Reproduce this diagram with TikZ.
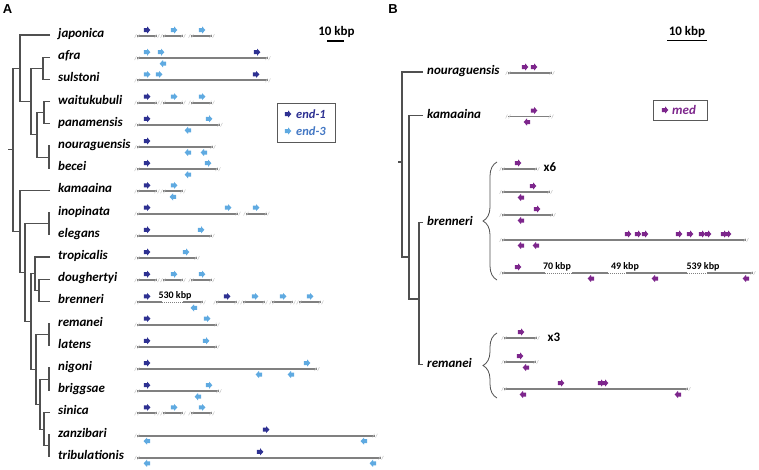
\documentclass[tikz,border=0pt]{standalone}
\usepackage{fontspec}
\setmainfont{Carlito}
\newfontfamily\panelfont{Liberation Sans}
\usepackage{xcolor}
\definecolor{endone}{RGB}{46,49,146}
\definecolor{endthree}{RGB}{95,170,225}
\definecolor{endthreetxt}{RGB}{68,120,196}
\definecolor{medpurple}{RGB}{125,38,140}
\definecolor{treegray}{RGB}{80,80,80}
\definecolor{chromgray}{RGB}{128,128,128}
\usetikzlibrary{decorations.pathreplacing}

\tikzset{
  fw/.pic={\fill (-3.2,-2) -- (0,-2) -- (0,-3.6) -- (3.4,0) -- (0,3.6) -- (0,2) -- (-3.2,2) -- cycle;},
  rv/.pic={\fill (3.2,-2) -- (0,-2) -- (0,-3.6) -- (-3.4,0) -- (0,3.6) -- (0,2) -- (3.2,2) -- cycle;}
}
% chromosome pieces and genes
\newcommand{\brk}[2]{\draw[brkline] ({#1-2.4},{#2+1.9}) -- ({#1-0.6},{#2-1.9}) ({#1+0.6},{#2+1.9}) -- ({#1+2.4},{#2-1.9});}
\newcommand{\gseg}[3]{\draw[gline] (#2,#1) -- (#3,#1); \brk{#2}{#1}\brk{#3}{#1}}
\newcommand{\gdot}[3]{\draw[white, line width=2.6pt] (#2,#1) -- (#3,#1); \draw[dotline] (#2,#1) -- (#3,#1);}
\newcommand{\geneup}[3]{\foreach \gx in {#3} {\pic[#2] at (\gx,{#1-6}) {fw};}}
\newcommand{\genedn}[3]{\foreach \gx in {#3} {\pic[#2] at (\gx,{#1+5.5}) {rv};}}
\newcommand{\threeseg}[1]{\gseg{#1}{137}{157}\gseg{#1}{163}{183}\gseg{#1}{191}{212}%
  \geneup{#1}{endone}{147}\geneup{#1}{endthree}{174,202}}

\begin{document}
\begin{tikzpicture}[x=1pt, y=-1pt,
  sp/.style={anchor=west, inner xsep=8pt, inner ysep=0pt, text height=7pt, text depth=2pt,
             font=\fontsize{13}{15}\selectfont\bfseries\itshape},
  spb/.style={sp, inner xsep=4pt},
  br/.style={draw=treegray, line width=1.1pt},
  gline/.style={draw=chromgray, line width=1.9pt},
  brkline/.style={draw=gray!45, line width=0.5pt},
  dotline/.style={draw=chromgray, line width=0.9pt, dash pattern=on 1pt off 1pt},
  kbp/.style={inner sep=0pt, font=\fontsize{13}{15}\selectfont\bfseries},
  smallkbp/.style={inner sep=0pt, font=\fontsize{10}{12}\selectfont\bfseries},
  panel/.style={inner sep=0pt, font=\panelfont\fontsize{13}{15}\selectfont\bfseries},
  legbox/.style={draw=gray!70!black, line width=0.9pt, inner sep=0pt},
  legtxt/.style={anchor=west, inner sep=0pt, font=\fontsize{12.5}{14}\selectfont\bfseries\itshape},
  brc/.style={draw=treegray, line width=0.8pt, decorate, decoration={brace, amplitude=14pt}},
  scalebar/.style={draw=black, line width=1.3pt}
]
\useasboundingbox (0,0) rectangle (759,469);

%%% panel A
\node[panel] (lblA) at (7.5,9.5) {A};
\foreach \i/\nm in {0/japonica,1/afra,2/sulstoni,3/waitukubuli,4/panamensis,5/nouraguensis,
  6/becei,7/kamaaina,8/inopinata,9/elegans,10/tropicalis,11/doughertyi,12/brenneri,13/remanei,
  14/latens,15/nigoni,16/briggsae,17/sinica,18/zanzibari,19/tribulationis}
  \node[sp] (\nm) at (50,{35+22.2*\i}) {\nm};

% tree A
\coordinate (afsu) at (43,68.3);
\coordinate (wapa) at (44,112.7);
\coordinate (nobe) at (49,157.1);
\coordinate (wpnb) at (37,134.9);
\coordinate (asnb) at (31,101.6);
\coordinate (japo) at (20,68.3);
\coordinate (inel) at (49,223.7);
\coordinate (dobr) at (39,290.3);
\coordinate (trop) at (35,273.65);
\coordinate (rela) at (49,334.7);
\coordinate (nibr) at (49,379.1);
\coordinate (zatr) at (49,445.7);
\coordinate (sizt) at (44,429.05);
\coordinate (nbsz) at (40,404.1);
\coordinate (rlns) at (36,369.4);
\coordinate (trre) at (31,321.5);
\coordinate (ietr) at (25,272.6);
\coordinate (kama) at (20,231.5);
\coordinate (rootA) at (13,149.9);
\draw[br] (afra.west) -| (afsu) |- (sulstoni.west);
\draw[br] (waitukubuli.west) -| (wapa) |- (panamensis.west);
\draw[br] (nouraguensis.west) -| (nobe) |- (becei.west);
\draw[br] (wapa) -| (wpnb) |- (nobe);
\draw[br] (afsu) -| (asnb) |- (wpnb);
\draw[br] (japonica.west) -| (japo) |- (asnb);
\draw[br] (inopinata.west) -| (inel) |- (elegans.west);
\draw[br] (doughertyi.west) -| (dobr) |- (brenneri.west);
\draw[br] (tropicalis.west) -| (trop) |- (dobr);
\draw[br] (remanei.west) -| (rela) |- (latens.west);
\draw[br] (nigoni.west) -| (nibr) |- (briggsae.west);
\draw[br] (zanzibari.west) -| (zatr) |- (tribulationis.west);
\draw[br] (sinica.west) -| (sizt) |- (zatr);
\draw[br] (nibr) -| (nbsz) |- (sizt);
\draw[br] (rela) -| (rlns) |- (nbsz);
\draw[br] (trop) -| (trre) |- (rlns);
\draw[br] (inel) -| (ietr) |- (trre);
\draw[br] (kamaaina.west) -| (kama) |- (ietr);
\draw[br] (japo) -| (rootA) |- (kama);
\draw[br] (8,149.9) -- (rootA);

% loci A
\threeseg{36}
\gseg{58.2}{137}{268}\geneup{58.2}{endthree}{147,161}\geneup{58.2}{endone}{257}\genedn{58.2}{endthree}{163}
\gseg{80.4}{137}{268}\geneup{80.4}{endthree}{147,159}\geneup{80.4}{endone}{256}
\threeseg{102.6}
\gseg{124.8}{137}{220}\geneup{124.8}{endone}{147}\geneup{124.8}{endthree}{209}\genedn{124.8}{endthree}{188}
\gseg{147}{137}{213}\geneup{147}{endone}{147}\genedn{147}{endthree}{188,204}
\gseg{169.2}{137}{218}\geneup{169.2}{endone}{147}\geneup{169.2}{endthree}{208}\genedn{169.2}{endthree}{188}
\gseg{191.4}{137}{157}\gseg{191.4}{163}{183}\geneup{191.4}{endone}{147}\geneup{191.4}{endthree}{174}\genedn{191.4}{endthree}{173}
\gseg{213.6}{137}{238}\gseg{213.6}{246}{267}\geneup{213.6}{endone}{147}\geneup{213.6}{endthree}{228,256}
\gseg{235.8}{137}{212}\geneup{235.8}{endone}{147}\geneup{235.8}{endthree}{201}
\gseg{258}{137}{197}\geneup{258}{endone}{147}\geneup{258}{endthree}{186}
\threeseg{280.2}
\gseg{302.4}{137}{203}\gdot{302.4}{162}{183}
\gseg{302.4}{216}{237}\gseg{302.4}{243}{265}\gseg{302.4}{272}{293}\gseg{302.4}{299}{321}
\geneup{302.4}{endone}{147,227}\geneup{302.4}{endthree}{255,283,310}\genedn{302.4}{endthree}{194}
\node[smallkbp] (gapA) at (175,296) {530 kbp};
\gseg{324.6}{137}{217}\geneup{324.6}{endone}{147}\geneup{324.6}{endthree}{207}
\gseg{346.8}{137}{217}\geneup{346.8}{endone}{147}\geneup{346.8}{endthree}{206}
\gseg{369}{137}{317}\geneup{369}{endone}{147}\geneup{369}{endthree}{307}\genedn{369}{endthree}{259,291}
\gseg{391.2}{137}{219}\geneup{391.2}{endone}{147}\geneup{391.2}{endthree}{209}\genedn{391.2}{endthree}{198}
\threeseg{413.4}
\gseg{435.6}{137}{375}\geneup{435.6}{endone}{266}\genedn{435.6}{endthree}{147,364}
\gseg{457.8}{137}{381}\geneup{457.8}{endone}{260}\genedn{457.8}{endthree}{147,373}

% scale and legend A
\node[kbp] (scaleA) at (336.5,32) {10 kbp};
\draw[scalebar] (327,41) -- (344,41);
\node[legbox, minimum width=58pt, minimum height=39pt] (legA) at (306,122.5) {};
\pic[endone] at (288,114) {fw};
\node[legtxt, text=endone] (leg1) at (296,114) {end-1};
\pic[endthree] at (288,131) {fw};
\node[legtxt, text=endthreetxt] (leg3) at (296,131) {end-3};

%%% panel B
\node[panel] (lblB) at (393,9) {B};
\node[spb] (nouB) at (423,72) {nouraguensis};
\node[spb] (kamB) at (423,115.5) {kamaaina};
\node[spb] (breB) at (423,222.5) {brenneri};
\node[spb] (remB) at (423,364.5) {remanei};
\coordinate (brre) at (419,299);
\coordinate (kabr) at (409,257);
\coordinate (rootB) at (402,162);
\draw[br] (breB.west) -| (brre) |- (remB.west);
\draw[br] (kamB.west) -| (kabr) |- (brre);
\draw[br] (nouB.west) -| (rootB) |- (kabr);
\draw[br] (398,162) -- (rootB);

\gseg{73}{508}{552}\geneup{73}{medpurple}{525,534}
\gseg{116.5}{508}{551}\geneup{116.5}{medpurple}{534}\genedn{116.5}{medpurple}{527}

% brenneri copies
\draw[brc] (497,280) -- (497,162);
\gseg{169}{502}{537}\geneup{169}{medpurple}{518}
\node[kbp] (xsix) at (550,167) {x6};
\gseg{192}{502}{550}\geneup{192}{medpurple}{533}\genedn{192}{medpurple}{521}
\gseg{215}{502}{553}\geneup{215}{medpurple}{537}\genedn{215}{medpurple}{521}
\gseg{240}{502}{746}\geneup{240}{medpurple}{628,638,645,679,690,702,708,724,728}\genedn{240}{medpurple}{521,536}
\gseg{273}{502}{753}\gdot{273}{545}{572}\gdot{273}{608}{626}\gdot{273}{687}{707}
\geneup{273}{medpurple}{518}\genedn{273}{medpurple}{591,655,746}
\node[smallkbp] (gapone) at (557,267) {70 kbp};
\node[smallkbp] (gaptwo) at (625,267) {49 kbp};
\node[smallkbp] (gapthree) at (703,267) {539 kbp};

% remanei copies
\draw[brc] (497,398) -- (497,333);
\gseg{338}{504}{537}\geneup{338}{medpurple}{521}
\node[kbp] (xthree) at (554,337) {x3};
\gseg{362}{504}{536}\geneup{362}{medpurple}{520}\genedn{362}{medpurple}{526}
\gseg{389}{504}{688}\geneup{389}{medpurple}{561,601,605}\genedn{389}{medpurple}{523,678}

% scale and legend B
\node[kbp] (scaleB) at (687,32) {10 kbp};
\draw[scalebar] (667,40.5) -- (707,40.5);
\node[legbox, minimum width=54pt, minimum height=20pt] (legB) at (680,110) {};
\pic[medpurple] at (665,110) {fw};
\node[legtxt, text=medpurple, font=\fontsize{13}{15}\selectfont\bfseries\itshape] (legmed) at (672,110) {med};
\end{tikzpicture}
\end{document}
